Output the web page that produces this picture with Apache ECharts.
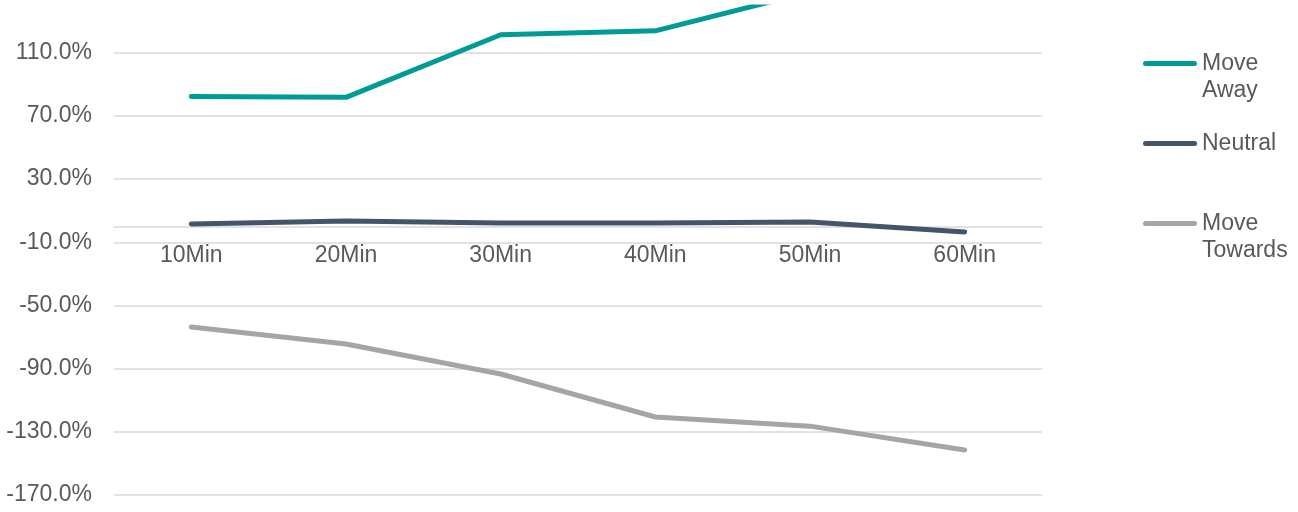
<!DOCTYPE html>
<html>
<head>
<meta charset="utf-8">
<script src="https://cdn.jsdelivr.net/npm/echarts@6/dist/echarts.min.js"></script>
<style>
  html, body { margin: 0; padding: 0; background: #ffffff; }
  #chart { width: 1298px; height: 512px; }
</style>
</head>
<body>
<div id="chart"></div>
<script>
const categories = ['10Min', '20Min', '30Min', '40Min', '50Min', '60Min'];
const moveAway = [82.3, 81.8, 121.4, 123.9, 148.6, 156.0];
const neutral = [1.6, 3.5, 2.3, 2.3, 2.9, -3.4];
const moveTowards = [-63.6, -74.4, -93.4, -120.6, -126.4, -141.5];
const seriesNames = ['Move Away', 'Neutral', 'Move Towards'];
// leading blank line keeps the first text line level with the legend icon
const legendLabels = { 'Move Away': ' \nMove\nAway', 'Neutral': 'Neutral', 'Move Towards': ' \nMove\nTowards' };

const colors = ['#009B95', '#44546A', '#A5A5A5'];
const textColor = '#595959';
const gridColor = '#D9D9D9';
const fontFamily = '"Liberation Sans", Arial, sans-serif';

const yMin = -170, yMax = 139;
const gridTop = 7, gridBottom = 17, chartHeight = 512;
// the category axis sits on the 0 line: shift it up from the grid bottom
const plotHeight = chartHeight - gridTop - gridBottom;
const zeroOffset = -(0 - yMin) / (yMax - yMin) * plotHeight;

const chart = echarts.init(document.getElementById('chart'), null, { renderer: 'canvas' });

const splitColors = [];
for (let i = 0; i < 8; i++) splitColors.push(gridColor);
splitColors.push('rgba(0,0,0,0)');

const option = {
  animation: false,
  color: colors,
  textStyle: { fontFamily: fontFamily },
  grid: { left: 114, right: 256, top: gridTop, bottom: gridBottom, containLabel: false, outerBoundsMode: 'none' },
  legend: {
    orient: 'vertical',
    left: 1143,
    top: 23,
    padding: 0,
    itemGap: 26,
    itemWidth: 54,
    itemHeight: 5,
    icon: 'path://M2.5,0 L51.5,0 A2.5,2.5 0 0 1 51.5,5 L2.5,5 A2.5,2.5 0 0 1 2.5,0 Z',
    selectedMode: false,
    formatter: name => legendLabels[name],
    textStyle: { color: textColor, fontSize: 23, lineHeight: 27, fontFamily: fontFamily },
    data: seriesNames
  },
  xAxis: {
    type: 'category',
    data: categories,
    boundaryGap: true,
    position: 'bottom',
    offset: zeroOffset,
    axisLine: { onZero: false, lineStyle: { color: gridColor, width: 1.5 } },
    axisTick: { show: false },
    axisLabel: { color: textColor, fontSize: 23, margin: 18, fontFamily: fontFamily },
    splitLine: { show: false }
  },
  yAxis: {
    type: 'value',
    min: yMin,
    max: yMax,
    interval: 40,
    axisLine: { show: false },
    axisTick: { show: false },
    axisLabel: {
      color: textColor,
      fontSize: 23,
      margin: 22,
      fontFamily: fontFamily,
      showMaxLabel: false,
      formatter: v => ((v - yMin) % 40 === 0 ? v.toFixed(1) + '%' : '')
    },
    splitLine: { show: true, lineStyle: { color: splitColors, width: 1.5 } }
  },
  series: [
    { name: seriesNames[0], type: 'line', data: moveAway, symbol: 'none', lineStyle: { width: 5, cap: 'round', join: 'round' } },
    { name: seriesNames[1], type: 'line', data: neutral, symbol: 'none', lineStyle: { width: 5, cap: 'round', join: 'round' } },
    { name: seriesNames[2], type: 'line', data: moveTowards, symbol: 'none', lineStyle: { width: 5, cap: 'round', join: 'round' } }
  ]
};

chart.setOption(option);
</script>
</body>
</html>
